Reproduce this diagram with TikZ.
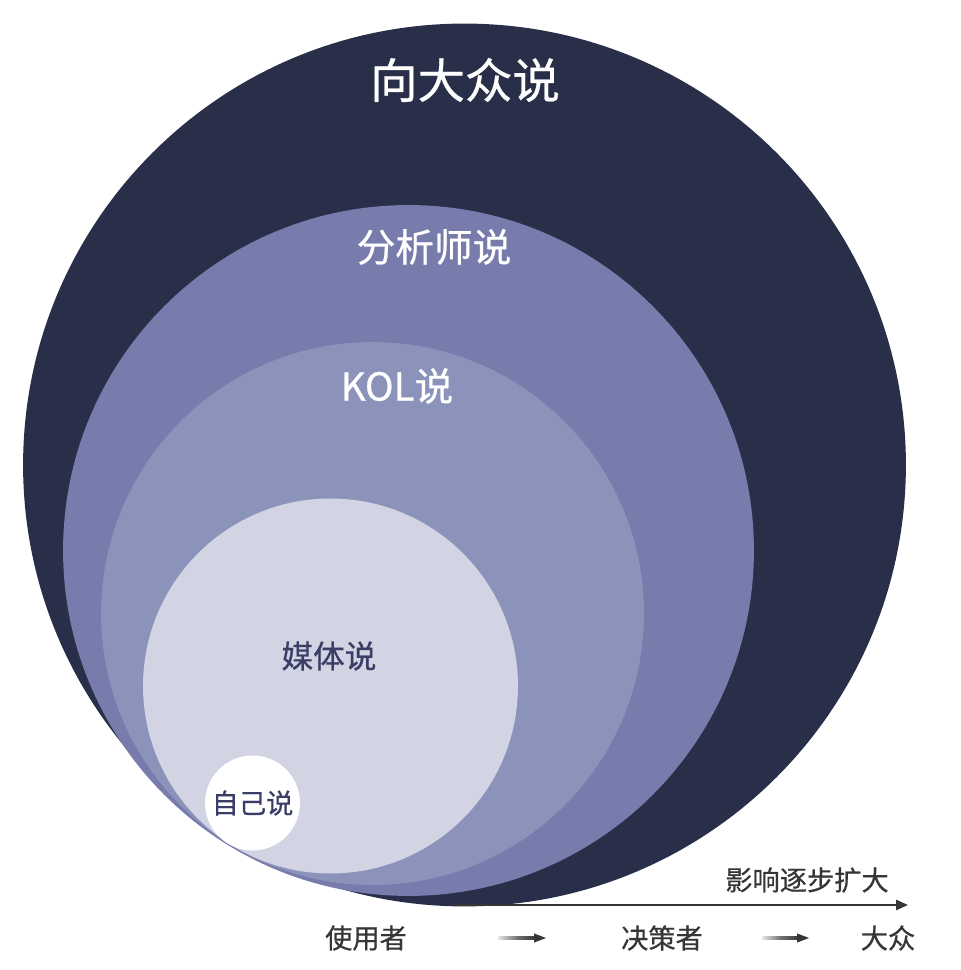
\documentclass[tikz,border=0pt]{standalone}
\usepackage{fontspec}
\newfontfamily\cjk{Noto Sans CJK SC}[FakeBold=0.6]
\usetikzlibrary{calc,arrows.meta}
\definecolor{ringdark}{HTML}{292E49}
\definecolor{ringmid}{HTML}{777CAD}
\definecolor{ringlight}{HTML}{8C93BA}
\definecolor{ringpale}{HTML}{D2D4E4}
\definecolor{inktext}{HTML}{3A3E66}
\definecolor{axisgray}{HTML}{363636}

\begin{document}
\begin{tikzpicture}[x=0.02cm,y=0.02cm]
    % `ring' is used for the nested discs.
    % `say' is used for the labels on the discs, `axis' for the texts below.
    \tikzstyle{ring} = [circle,draw=none,inner sep=0pt]
    \tikzstyle{say} = [text=white,inner sep=0pt]
    \tikzstyle{axis} = [text=axisgray,inner sep=0pt,font=\cjk\fontsize{15.5}{18}\selectfont]
    \useasboundingbox (0,0) rectangle (960,970);
    %
    \node[ring,fill=ringdark,minimum size=17.66cm] (public) at (464.5,505) {};
    \node[ring,fill=ringmid,minimum size=13.82cm] (analyst) at (408.5,419.5) {};
    \node[ring,fill=ringlight,minimum size=10.86cm] (kol) at (372.5,356.5) {};
    \node[ring,fill=ringpale,minimum size=7.5cm] (media) at (330.5,284) {};
    \node[ring,fill=white,minimum size=1.9cm] (self) at (252.5,167) {};

    \node[say,font=\cjk\fontsize{27}{32}\selectfont] (publictxt) at (465,890) {向大众说};
    \node[say,font=\cjk\fontsize{22}{26}\selectfont] (analysttxt) at (434,723) {分析师说};
    \node[say,font=\cjk\fontsize{22}{26}\selectfont] (koltxt) at (397,584) {KOL说};
    \node[say,text=inktext,font=\cjk\fontsize{18}{22}\selectfont] (mediatxt) at (329,314) {媒体说};
    \node[say,text=inktext,font=\cjk\fontsize{15.5}{18}\selectfont] (selftxt) at (self) {自己说};

    % long arrow with its caption
    \coordinate (from) at (455,65);
    \coordinate (to) at (908,65);
    \draw[axisgray,line width=1.1pt,-{Triangle[length=6.8pt,width=5.8pt]}] (from) -- (to);
    \node[axis] (grow) at (807,90) {影响逐步扩大};

    \node[axis] (user) at (366,32) {使用者};
    \node[axis] (decider) at (662,32) {决策者};
    \node[axis] (crowd) at (888,32) {大众};

    % small fading arrows between the groups
    \foreach \s/\e in {498/546,762/809} {
      \coordinate (s) at (\s,32);
      \coordinate (e) at (\e,32);
      \shade[left color=axisgray!12,right color=axisgray,middle color=axisgray!70]
        ($(s)+(0,-1.4)$) rectangle ($(e)+(-10,1.4)$);
      \fill[axisgray] ($(e)+(-12,4.6)$) -- (e) -- ($(e)+(-12,-4.6)$) -- cycle;
    }
\end{tikzpicture}
\end{document}
